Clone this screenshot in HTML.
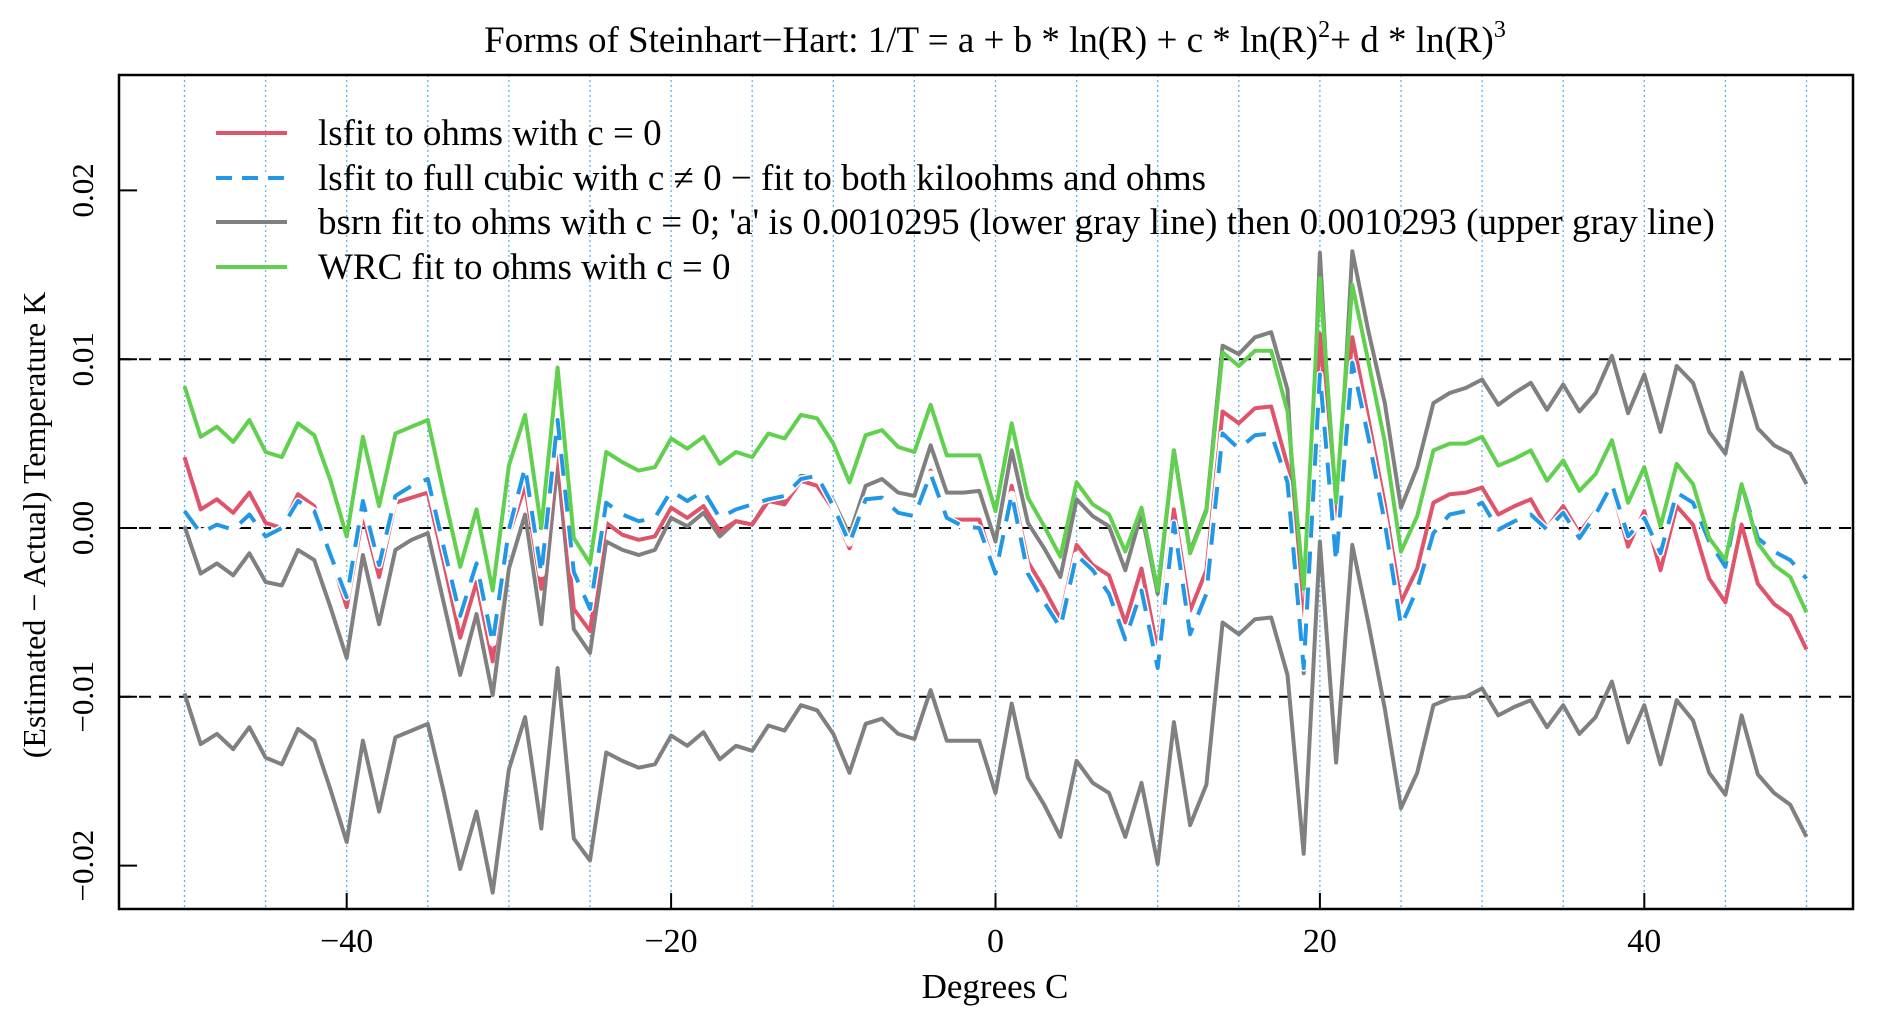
<!DOCTYPE html>
<html><head><meta charset="utf-8"><style>
body{margin:0;background:#fff}
svg{display:block;font-family:"Liberation Serif",serif}
</style></head><body>
<svg id="chart" width="1892" height="1025" viewBox="0 0 1892 1025" xmlns="http://www.w3.org/2000/svg">
<rect width="1892" height="1025" fill="#fff"/>
<text x="995" y="52" font-size="37" text-anchor="middle">Forms of Steinhart−Hart: 1/T = a + b * ln(R) + c * ln(R)<tspan font-size="24" dy="-15">2</tspan><tspan dy="15">+ d * ln(R)</tspan><tspan font-size="24" dy="-15">3</tspan></text>
<g id="grid"></g>
<g id="series"></g>
<rect x="119" y="75" width="1734" height="834" fill="none" stroke="#000" stroke-width="2.5"/>
<g id="axes"></g>
<text x="995" y="998" font-size="35" text-anchor="middle">Degrees C</text>
<text transform="translate(45,525) rotate(-90)" font-size="32" text-anchor="middle">(Estimated − Actual) Temperature K</text>
<g>
<line x1="216" y1="133" x2="287" y2="133" stroke="#DF536B" stroke-width="4"/>
<text x="318" y="145" font-size="37">lsfit to ohms with c = 0</text>
<line x1="216" y1="178" x2="287" y2="178" stroke="#fff" stroke-width="8"/>
<line x1="216" y1="178" x2="287" y2="178" stroke="#2297E6" stroke-width="4" stroke-dasharray="16,10"/>
<text x="318" y="190" font-size="37">lsfit to full cubic with c ≠ 0 − fit to both kiloohms and ohms</text>
<line x1="216" y1="222" x2="287" y2="222" stroke="#808080" stroke-width="4"/>
<text x="318" y="234" font-size="37">bsrn fit to ohms with c = 0;  'a' is 0.0010295 (lower gray line) then 0.0010293 (upper gray line)</text>
<line x1="216" y1="267" x2="287" y2="267" stroke="#61D04F" stroke-width="4"/>
<text x="318" y="279" font-size="37">WRC fit to ohms with c = 0</text>
</g>
</svg>
<script>
const degrees = [];
for (let d = -50; d <= 50; d++) degrees.push(d);
const SCALE = 0.001;
const redVals = [4.2,1.1,1.7,0.9,2.1,0.3,0.0,2.0,1.3,-1.6,-4.7,0.8,-2.9,1.5,1.8,2.1,-2.1,-6.5,-3.2,-7.9,-0.4,2.5,-3.6,4.8,-4.8,-6.1,0.3,
-0.4,-0.7,-0.5,1.2,0.6,1.3,-0.2,0.4,0.2,1.6,1.4,2.8,2.5,1.1,-1.2,1.6,1.8,0.9,0.7,3.4,0.5,0.5,0.5,-2.5,2.5,
-2.0,-3.6,-5.4,-1.0,-2.2,-2.8,-5.6,-2.4,-7.3,1.1,-4.9,-2.5,6.9,6.2,7.1,7.2,3.7,-5.8,11.5,-0.2,11.3,6.4,1.4,-4.4,-2.4,
1.5,2.0,2.1,2.4,0.8,1.3,1.7,0.0,1.3,-0.3,1.0,2.4,-1.1,1.0,-2.5,1.3,0.2,-3.0,-4.4,0.2,-3.3,-4.5,-5.2,-7.2];
const blueVals = [1.0,-0.3,0.2,-0.1,0.8,-0.5,0.0,1.6,1.0,-1.6,-4.1,1.6,-2.2,1.9,2.5,2.9,-1.2,-5.2,-2.1,-6.8,-0.1,3.6,-2.7,6.4,-2.6,-4.8,1.5,
0.8,0.4,0.6,2.2,1.6,2.2,0.6,1.1,1.4,1.7,1.9,2.9,3.1,1.3,-0.9,1.7,1.8,0.9,0.7,3.2,0.6,0.1,0.0,-2.7,2.0,
-2.7,-4.4,-5.9,-1.6,-2.5,-3.9,-6.6,-3.7,-8.3,0.3,-6.3,-3.9,5.6,4.7,5.5,5.6,2.7,-8.3,9.1,-2.0,9.8,5.3,0.3,-5.8,-3.6,
-0.3,0.8,1.0,1.5,-0.1,0.4,0.8,-0.1,0.9,-0.6,0.8,2.6,-0.5,0.6,-1.5,2.1,1.5,-0.8,-2.3,2.6,-0.6,-1.4,-1.9,-3.0];
const greenVals = [8.4,5.4,6.0,5.1,6.4,4.5,4.2,6.2,5.5,2.8,-0.5,5.4,1.3,5.6,6.0,6.4,2.0,-2.3,1.1,-3.7,3.7,6.7,0.0,9.5,-0.6,-2.1,4.5,
3.9,3.4,3.6,5.3,4.7,5.4,3.8,4.5,4.2,5.6,5.3,6.7,6.5,5.0,2.7,5.5,5.8,4.8,4.5,7.3,4.3,4.3,4.3,1.0,6.2,
1.8,0.1,-1.7,2.7,1.4,0.8,-1.4,1.2,-3.7,4.6,-1.5,1.0,10.4,9.6,10.5,10.5,6.9,-3.6,14.8,1.5,14.4,9.8,5.1,-1.4,0.7,
4.6,5.0,5.0,5.4,3.7,4.1,4.6,2.8,4.0,2.2,3.2,5.2,1.5,3.6,0.1,3.8,2.6,-0.6,-1.9,2.6,-0.9,-2.2,-2.9,-5.0];
const grayUpperVals = [0.1,-2.7,-2.1,-2.8,-1.5,-3.2,-3.4,-1.3,-1.9,-4.7,-7.7,-1.6,-5.7,-1.3,-0.7,-0.3,-4.5,-8.7,-5.1,-9.9,-2.4,0.8,-5.7,3.9,-6.0,-7.4,-0.8,
-1.3,-1.6,-1.3,0.6,0.1,0.9,-0.5,0.4,0.2,1.7,1.6,3.1,3.0,1.6,-0.4,2.5,2.9,2.1,1.9,4.9,2.1,2.1,2.2,-0.8,4.6,
0.3,-1.2,-2.9,1.7,0.7,0.1,-2.5,0.9,-3.9,4.6,-1.4,1.1,10.8,10.3,11.3,11.6,8.2,-8.6,16.3,-1.0,16.4,11.6,7.4,1.2,3.6,
7.4,8.0,8.3,8.8,7.3,8.0,8.6,7.0,8.5,6.9,8.0,10.2,6.8,9.1,5.7,9.6,8.6,5.7,4.4,9.2,5.9,4.9,4.4,2.6];
const grayLowerVals = [-9.8,-12.8,-12.2,-13.1,-11.8,-13.6,-14.0,-11.9,-12.6,-15.5,-18.6,-12.6,-16.8,-12.4,-12.0,-11.6,-15.7,-20.2,-16.8,-21.6,-14.3,-11.2,-17.8,-8.3,-18.4,-19.7,-13.3,
-13.8,-14.2,-14.0,-12.3,-12.9,-12.1,-13.7,-12.9,-13.2,-11.7,-12.0,-10.5,-10.8,-12.2,-14.5,-11.6,-11.3,-12.2,-12.5,-9.6,-12.6,-12.6,-12.6,-15.7,-10.4,
-14.8,-16.4,-18.3,-13.8,-15.1,-15.7,-18.3,-15.1,-19.9,-11.5,-17.6,-15.2,-5.6,-6.3,-5.4,-5.3,-8.7,-19.3,-0.8,-13.9,-1.0,-5.7,-10.7,-16.6,-14.5,
-10.5,-10.1,-10.0,-9.5,-11.1,-10.6,-10.2,-11.8,-10.5,-12.2,-11.2,-9.1,-12.7,-10.5,-14.0,-10.2,-11.4,-14.5,-15.8,-11.1,-14.6,-15.7,-16.4,-18.3];
const xTicks = [-40,-20,0,20,40];
const yTicks = [-0.02,-0.01,0.00,0.01,0.02];
const yTickLabels = ["−0.02","−0.01","0.00","0.01","0.02"];
const refLines = [-0.01,0,0.01];
const gridDegrees = [-50,-45,-40,-35,-30,-25,-20,-15,-10,-5,0,5,10,15,20,25,30,35,40,45,50];

const NS = "http://www.w3.org/2000/svg";
const PL = 119, PR = 1853, PT = 75, PB = 909;
function xs(d){ return 995.5 + d * 16.22; }
function ys(v){ return 528 - v / 0.01 * 168.8; }
function mk(tag, attrs, parent){ const e = document.createElementNS(NS, tag); for (const k in attrs) e.setAttribute(k, attrs[k]); parent.appendChild(e); return e; }

const grid = document.getElementById('grid');
gridDegrees.forEach(d => {
  const l = mk('line', {x1: xs(d), x2: xs(d), y1: PT, y2: PB, stroke: '#5AB4F0', 'stroke-width': 1.3, 'stroke-dasharray': '2,3'}, grid);
  
  
});
refLines.forEach(v => {
  const l = mk('line', {x1: PL, x2: PR, y1: ys(v), y2: ys(v), stroke: '#000', 'stroke-width': 2, 'stroke-dasharray': '12,8'}, grid);
  
  
});

const series = document.getElementById('series');
function pts(vals){ return vals.map((v,i) => xs(degrees[i]).toFixed(1) + ',' + ys(v*SCALE).toFixed(1)).join(' '); }
function line(vals, color, name, dash){
  if (dash) {
    const h = mk('polyline', {points: pts(vals), fill: 'none', stroke: '#fff', 'stroke-width': 7, 'stroke-linejoin': 'round'}, series);
    
    
  }
  const p = mk('polyline', {points: pts(vals), fill: 'none', stroke: color, 'stroke-width': 4, 'stroke-linejoin': 'round'}, series);
  if (dash) p.setAttribute('stroke-dasharray', dash);
  
  
}
line(grayLowerVals, '#808080', 'bsrn-lower-gray-line');
line(grayUpperVals, '#808080', 'bsrn-upper-gray-line');
line(redVals, '#DF536B', 'lsfit-ohms-red-line');
line(blueVals, '#2297E6', 'lsfit-full-cubic-blue-line', '22,14');
line(greenVals, '#61D04F', 'wrc-green-line');

const axes = document.getElementById('axes');
xTicks.forEach(d => {
  const t = mk('line', {x1: xs(d), x2: xs(d), y1: PB, y2: PB - 16, stroke: '#000', 'stroke-width': 2}, axes);
  
  
  const lb = mk('text', {x: xs(d), y: 952, 'font-size': 34, 'text-anchor': 'middle'}, axes);
  lb.textContent = d < 0 ? '−' + Math.abs(d) : String(d);
  
  
});
yTicks.forEach((v,i) => {
  const t = mk('line', {x1: PL, x2: PL + 18, y1: ys(v), y2: ys(v), stroke: '#000', 'stroke-width': 2}, axes);
  
  
  const lb = mk('text', {transform: 'translate(93,' + ys(v) + ') rotate(-90)', 'font-size': 31, 'text-anchor': 'middle'}, axes);
  lb.textContent = yTickLabels[i];
  
  
});
</script>
</body></html>
